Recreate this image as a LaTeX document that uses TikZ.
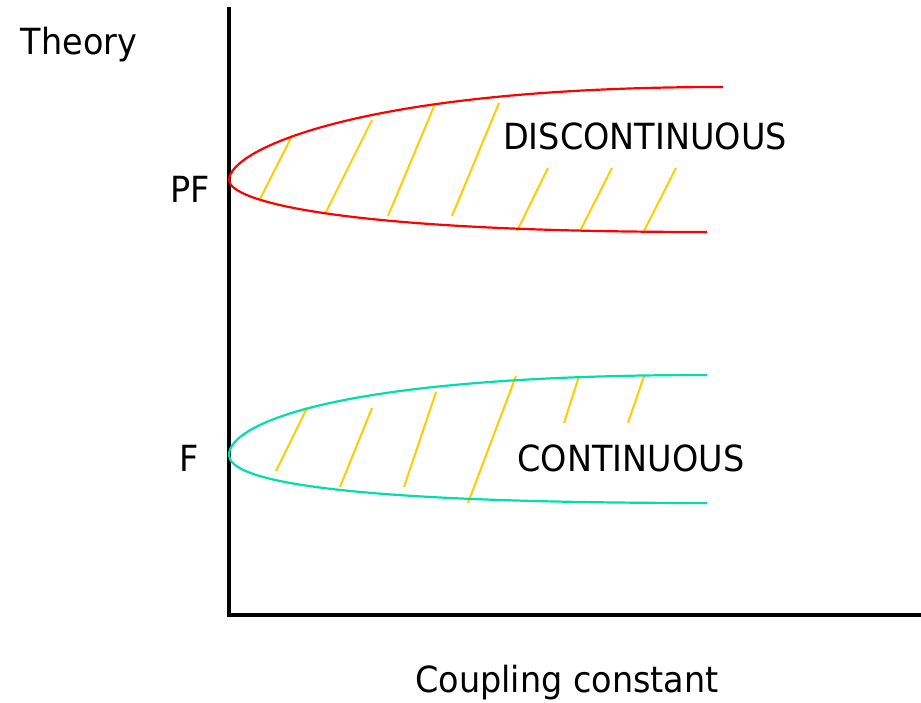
\documentclass[tikz,border=0pt]{standalone}
\usepackage{fontspec}
\setmainfont[FakeStretch=0.93]{DejaVu Sans}
\usepackage{tikz}
\usetikzlibrary{calc}
\definecolor{curvered}{RGB}{255,0,0}
\definecolor{curvecyan}{RGB}{0,222,170}
\definecolor{hatchyellow}{RGB}{255,204,0}
\tikzset{
  axisline/.style={line width=3.2pt},
  redcurve/.style={curvered, line width=2.2pt},
  cyancurve/.style={curvecyan, line width=2.2pt},
  hatchline/.style={hatchyellow, line width=2pt},
  lbl/.style={anchor=base, inner sep=0pt, font=\fontsize{36}{42}\selectfont}
}

\begin{document}
\begin{tikzpicture}[x=1pt, y=-1pt]
        \useasboundingbox (0,0) rectangle (921,703);
        \coordinate (O) at (229,615);
        \coordinate (Top) at (229,7);
        \coordinate (Right) at (921,615);
        \coordinate (PF) at (229,180); % tip of the red curve
        \coordinate (F) at (229,455);  % tip of the cyan curve

        % axes
        \draw[axisline] (Top) -- (O) -- (Right);

        % hatching, red region
        \foreach \xa/\ya/\xb/\yb in {260/199/292/136, 325/214/372/120, 388/216/435/104,
            452/216/499/103, 517/231/548/168, 580/231/612/168, 644/231/676/168}
            \draw[hatchline] (\xa,\ya) -- (\xb,\yb);
        % hatching, cyan region
        \foreach \xa/\ya/\xb/\yb in {276/471/307/408, 340/487/372/408, 404/487/436/392,
            468/503/516/376, 564/423/579/376, 628/423/644/376}
            \draw[hatchline] (\xa,\ya) -- (\xb,\yb);

        % curves
        \draw[redcurve] (723,87) .. controls (360,87) and (229,150) .. (PF)
            .. controls (229,200) and (330,232) .. (707,232);
        \draw[cyancurve] (707,375) .. controls (330,375) and (229,425) .. (F)
            .. controls (229,480) and (330,503) .. (707,503);

        % labels
        \node[lbl] (theory) at (79,55) {Theory};
        \node[lbl] (pflbl) at (190,203) {PF};
        \node[lbl] (flbl) at (189,471) {F};
        \node[lbl] (disc) at (645,150) {DISCONTINUOUS};
        \node[lbl] (cont) at (631,471) {CONTINUOUS};
        \node[lbl] (coupling) at (567,692) {Coupling constant};
    \end{tikzpicture}
\end{document}
